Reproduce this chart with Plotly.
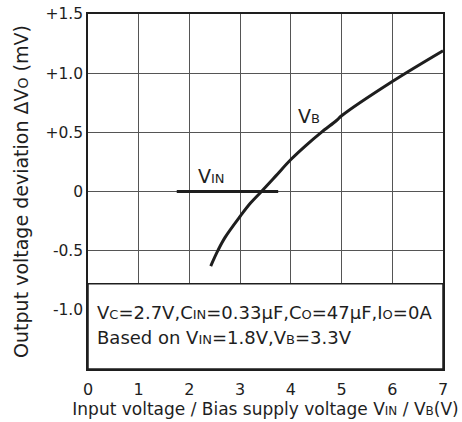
import plotly.graph_objects as go

vin_x = [1.75, 3.75]
vin_y = [0.0, 0.0]
vb_x = [2.42, 2.56, 2.7, 3.0, 3.2, 3.42, 3.7, 4.0, 4.3, 4.6, 4.9, 5.0, 6.0, 7.0]
vb_y = [-0.63, -0.5, -0.39, -0.21, -0.1, 0.0, 0.13, 0.27, 0.39, 0.5, 0.6, 0.64, 0.93, 1.19]
x_ticks = [0, 1, 2, 3, 4, 5, 6, 7]
y_ticks = [1.5, 1.0, 0.5, 0.0, -0.5, -1.0, -1.5]
y_labels = ["+1.5", "+1.0", "+0.5", "0", "-0.5", "-1.0", ""]
note_top = -0.78

FONT = "DejaVu Sans, sans-serif"
INK = "#1e1e1e"

def sm(t, size=11):
    return f"<span style='font-size:{size}px'>{t}</span>"

fig = go.Figure()
fig.add_trace(go.Scatter(x=vin_x, y=vin_y, mode="lines",
                         line=dict(color=INK, width=3), showlegend=False))
fig.add_trace(go.Scatter(x=vb_x, y=vb_y, mode="lines", line_shape="spline",
                         line=dict(color=INK, width=3), showlegend=False))

fig.add_shape(type="rect", xref="x", yref="y", x0=0, x1=7, y0=-1.5, y1=note_top,
              fillcolor="white", line=dict(color=INK, width=1.5), layer="above")

fig.add_annotation(x=0.13, y=-1.02, xref="x", yref="y", xanchor="left", showarrow=False,
                   text="V" + sm("C", 13) + "=2.7V,C" + sm("IN", 13) + "=0.33μF,C" + sm("O", 13)
                        + "=47μF,I" + sm("O", 13) + "=0A",
                   font=dict(family=FONT, size=18, color=INK))
fig.add_annotation(x=0.13, y=-1.23, xref="x", yref="y", xanchor="left", showarrow=False,
                   text="Based on V" + sm("IN", 13) + "=1.8V,V" + sm("B", 13) + "=3.3V",
                   font=dict(family=FONT, size=18, color=INK))
fig.add_annotation(x=4.36, y=0.64, xref="x", yref="y", showarrow=False,
                   text="V" + sm("B", 13), font=dict(family=FONT, size=19, color=INK))
fig.add_annotation(x=2.44, y=0.13, xref="x", yref="y", showarrow=False,
                   text="V" + sm("IN", 13), font=dict(family=FONT, size=19, color=INK))

fig.update_xaxes(range=[0, 7], tickvals=x_ticks, ticktext=[str(v) for v in x_ticks],
                 showgrid=True, gridcolor="#555", gridwidth=1,
                 showline=True, linecolor=INK, linewidth=1.5, mirror=True,
                 ticks="", zeroline=False, automargin=False,
                 ticklabelstandoff=5, ticklabeloverflow="allow",
                 tickfont=dict(family=FONT, size=16, color=INK),
                 title=dict(text="Input voltage / Bias supply voltage V" + sm("IN", 12) + " / V" + sm("B", 12) + "(V)",
                            font=dict(family=FONT, size=17, color=INK), standoff=4))
fig.update_yaxes(range=[-1.5, 1.5], tickvals=y_ticks, ticktext=y_labels,
                 showgrid=True, gridcolor="#555", gridwidth=1,
                 showline=True, linecolor=INK, linewidth=1.5, mirror=True,
                 ticks="", zeroline=False, automargin=False,
                 ticklabeloverflow="allow",
                 tickfont=dict(family=FONT, size=15.5, color=INK),
                 title=dict(text="Output voltage deviation ΔV" + sm("O", 14) + " (mV)",
                            font=dict(family=FONT, size=19, color=INK), standoff=12))

fig.update_layout(width=462, height=422, margin=dict(l=88, r=19, t=14, b=53),
                  plot_bgcolor="white", paper_bgcolor="white")
# remove the page's default body margin so the figure fills the window exactly
fig.write_html("out.html", config={"displayModeBar": False},
               post_script="document.body.style.margin='0';")
